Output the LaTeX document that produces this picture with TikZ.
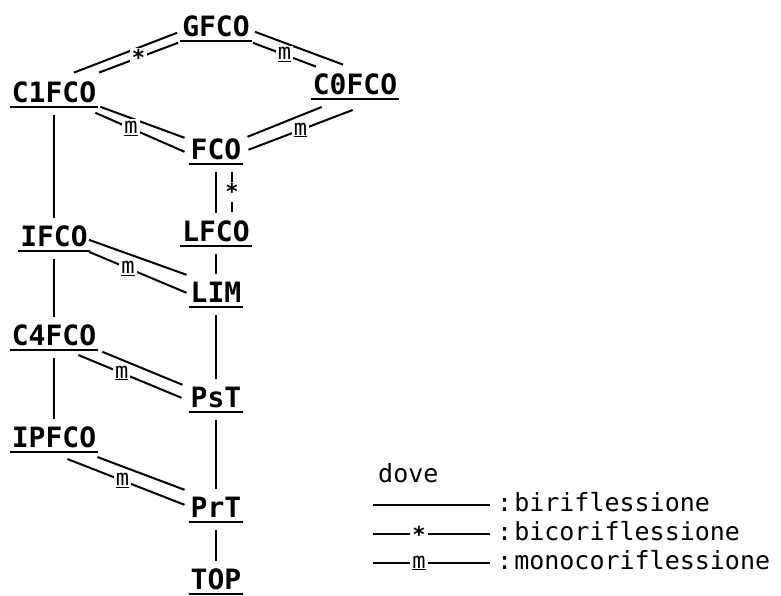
\documentclass[tikz,border=0pt]{standalone}
\usepackage{fontspec}
\newfontfamily\monofont{DejaVu Sans Mono}
\newcommand{\lblfont}{\monofont\bfseries\fontsize{28}{30}\selectfont}
\newcommand{\legfont}{\monofont\fontsize{25}{27}\selectfont}
\newcommand{\dovefont}{\monofont\fontsize{25}{27}\selectfont}
\newcommand{\markfont}{\monofont\fontsize{22}{24}\selectfont}
\newcommand{\starmark}{\raisebox{-0.3em}{\bfseries *}}
\usetikzlibrary{calc}
\tikzstyle{uline} = [line width=2.2pt]
\tikzstyle{obj} = [font=\lblfont, inner sep=0pt, text height=20pt, text depth=0pt, anchor=south, append after command={([xshift=-2pt,yshift=-4pt]\tikzlastnode.south west) edge[uline] ([xshift=2pt,yshift=-4pt]\tikzlastnode.south east)}]
\tikzstyle{rel} = [line width=2pt]
\tikzstyle{vrel} = [line width=2pt, shorten <=12pt, shorten >=9pt]
\tikzstyle{mk} = [fill=white, inner sep=2pt, font=\markfont]
\tikzstyle{legtext} = [font=\legfont, inner sep=0pt, anchor=base west]

\begin{document}
\begin{tikzpicture}[x=1pt, y=-1pt]
    \useasboundingbox (0,0) rectangle (781,596);
        \node (gfco) [obj] at (216,37) {GFCO};
        \node (c1fco) [obj] at (54,103) {C1FCO};
        \node (c0fco) [obj] at (355,95) {C0FCO};
        \node (fco) [obj] at (216,160) {FCO};
        \node (lfco) [obj] at (216,242) {LFCO};
        \node (ifco) [obj] at (54,247) {IFCO};
        \node (lim) [obj] at (216,303) {LIM};
        \node (c4fco) [obj] at (54,346) {C4FCO};
        \node (pst) [obj] at (216,408) {PsT};
        \node (ipfco) [obj] at (54,448) {IPFCO};
        \node (prt) [obj] at (216,518) {PrT};
        \node (top) [obj] at (216,590) {TOP};

        % biriflessioni
        \draw [rel] ([xshift=-5pt,yshift=-6pt]gfco.west) -- ([xshift=20pt,yshift=10pt]c1fco.north);
        \draw [rel] ([xshift=5pt,yshift=-5pt]gfco.east) -- ([xshift=-12pt,yshift=10pt]c0fco.north);
        \draw [rel] ([xshift=4pt,yshift=-14pt]c1fco.east) -- ([xshift=-6pt,yshift=12pt]fco.west);
        \draw [rel] ([xshift=9pt,yshift=-12pt]c0fco.south west) -- ([xshift=6pt,yshift=13pt]fco.east);
        \draw [vrel] (fco) -- (lfco);
        \draw [rel] ([xshift=1pt,yshift=-3pt]ifco.east) -- ([xshift=-4pt,yshift=18pt]lim.west);
        \draw [rel] ([xshift=6pt,yshift=-16pt]c4fco.east) -- ([xshift=-8pt,yshift=13pt]pst.west);
        \draw [rel] ([xshift=1pt,yshift=-9pt]ipfco.south east) -- ([xshift=-6pt,yshift=18pt]prt.west);
        \draw [vrel] (c1fco) -- (ifco);
        \draw [vrel] (ifco) -- (c4fco);
        \draw [vrel] (c4fco) -- (ipfco);
        \draw [vrel] (lfco) -- (lim);
        \draw [vrel] (lim) -- (pst);
        \draw [vrel] (pst) -- (prt);
        \draw [vrel] (prt) -- (top);

        % bicoriflessioni e monocoriflessioni
        \draw [rel] ([xshift=-4pt,yshift=-16pt]gfco.west) -- node[mk] {\starmark} ([xshift=45pt,yshift=10pt]c1fco.north);
        \draw [rel] ([xshift=16pt,yshift=-12pt]fco.south) -- node[mk] {\starmark} ([xshift=16pt,yshift=10pt]lfco.north);
        \draw [rel] ([xshift=3pt,yshift=-16pt]gfco.east) -- node[mk] {\underline{m}} ([xshift=-39pt,yshift=8pt]c0fco.north);
        \draw [rel] ([xshift=-1pt,yshift=-20pt]c1fco.east) -- node[mk, pos=0.4] {\underline{m}} ([xshift=-6pt,yshift=-2pt]fco.west);
        \draw [rel] ([xshift=40pt,yshift=-15pt]c0fco.south west) -- node[mk] {\underline{m}} ([xshift=7pt]fco.east);
        \draw [rel] ([xshift=1pt,yshift=-15pt]ifco.east) -- node[mk, pos=0.4] {\underline{m}} ([xshift=-4pt]lim.west);
        \draw [rel] ([xshift=-18pt,yshift=-9pt]c4fco.south east) -- node[mk, pos=0.42] {\underline{m}} ([xshift=-9pt]pst.west);
        \draw [rel] ([xshift=-29pt,yshift=-11pt]ipfco.south east) -- node[mk, pos=0.47] {\underline{m}} ([xshift=-6pt,yshift=3pt]prt.west);

        % legenda
        \node (dove) [legtext, font=\dovefont] at (378,482) {dove};
        \node (leg1) [legtext] at (497,511) {:\hspace{2pt}biriflessione};
        \node (leg2) [legtext] at (497,540) {:\hspace{2pt}bicoriflessione};
        \node (leg3) [legtext] at (497,569) {:\hspace{2pt}monocoriflessione};
        \coordinate (s1) at (373,505);
        \coordinate (s2) at (373,534);
        \coordinate (s3) at (373,563);
        \draw [rel, shorten >=7pt] (s1) -- (s1 -| leg1.west);
        \draw [rel, shorten >=7pt] (s2) -- node[mk, pos=0.37] {\starmark} (s2 -| leg2.west);
        \draw [rel, shorten >=7pt] (s3) -- node[mk, pos=0.37] {\underline{m}} (s3 -| leg3.west);
\end{tikzpicture}
\end{document}
